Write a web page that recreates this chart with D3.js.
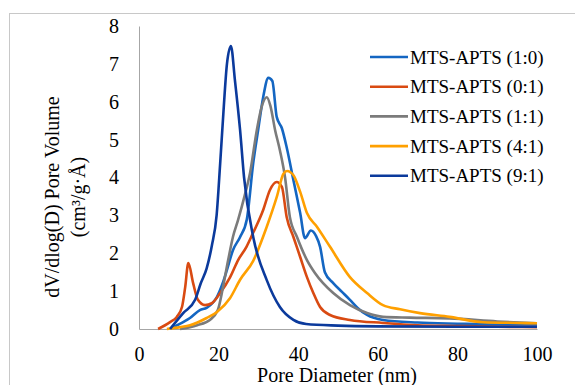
<!DOCTYPE html>
<html>
<head>
<meta charset="utf-8">
<script src="https://cdn.jsdelivr.net/npm/d3@7"></script>
<style>
  body { margin: 0; background: #fff; }
</style>
</head>
<body>
<div id="chart"></div>
<script>
// tick labels
var xTicks = [0, 20, 40, 60, 80, 100];
var yTicks = [0, 1, 2, 3, 4, 5, 6, 7, 8];

// series names and colours
var seriesNames = ["MTS-APTS (1:0)", "MTS-APTS (0:1)", "MTS-APTS (1:1)", "MTS-APTS (4:1)", "MTS-APTS (9:1)"];
var seriesColors = ["#1466c2", "#d94a12", "#7b7b7b", "#ffa000", "#0b3a9c"];

// pore diameter (nm) / dV/dlog(D)
var d10 = [8, 10, 12.8, 15.3, 17, 18.6, 19.6, 21, 22.1, 23.6, 25.4, 27.1, 28.7, 30, 31.2, 32.5, 33.5, 34.6, 35.9, 37.1, 38.8, 40.5, 41.7, 43.2, 44.5, 45.5, 46.7, 48.8, 51, 53, 55, 57.3, 61.3, 70, 80, 90, 100];
var v10 = [0.02, 0.12, 0.29, 0.5, 0.56, 0.7, 0.85, 1.2, 1.56, 2.08, 2.43, 2.9, 4.38, 5.3, 6.12, 6.63, 6.55, 5.6, 5.3, 4.8, 3.93, 3.06, 2.4, 2.6, 2.45, 2.17, 1.5, 1.21, 0.98, 0.77, 0.55, 0.37, 0.24, 0.17, 0.14, 0.12, 0.12];

var d01 = [4.8, 7.8, 9.5, 10.8, 11.6, 12.4, 13.6, 14.8, 16.6, 18.3, 20.4, 22.9, 24.9, 27, 28.5, 31.2, 32.9, 34.6, 35.9, 37.1, 38.8, 40.5, 42.2, 43.8, 45.5, 48, 53, 61.3, 70, 80, 90, 100];
var v01 = [0, 0.18, 0.32, 0.58, 1.1, 1.74, 1.21, 0.77, 0.63, 0.68, 0.95, 1.37, 1.82, 2.17, 2.5, 3.14, 3.67, 3.88, 3.75, 2.96, 2.43, 1.9, 1.37, 0.95, 0.58, 0.37, 0.24, 0.16, 0.1, 0.08, 0.06, 0.05];

var d11 = [10.3, 14.6, 17.8, 19.8, 21.1, 22.4, 23.6, 24.9, 26.5, 27.9, 29.6, 30.8, 32.1, 33, 34.2, 35.4, 36.7, 37.9, 39.7, 42.2, 44.2, 48.8, 53, 57.3, 61.3, 68, 78, 90, 100];
var v11 = [0, 0.1, 0.24, 0.5, 1.1, 1.82, 2.43, 2.88, 3.5, 4.12, 5.25, 5.86, 6.12, 5.9, 5.25, 4.72, 4.0, 2.96, 2.43, 1.82, 1.48, 0.95, 0.63, 0.42, 0.32, 0.3, 0.28, 0.2, 0.15];

var d41 = [7, 10.3, 12.8, 17, 19.6, 22.9, 25.4, 28.7, 32.1, 34.6, 36.3, 37.2, 38.8, 40.5, 42.2, 44.7, 48, 53, 57.3, 61.3, 65.6, 70.6, 78, 86.4, 95, 100];
var v41 = [0, 0.05, 0.1, 0.29, 0.45, 0.82, 1.3, 1.8, 2.7, 3.48, 4.1, 4.17, 4.06, 3.62, 3.06, 2.7, 2.17, 1.37, 0.95, 0.63, 0.52, 0.42, 0.32, 0.18, 0.16, 0.15];

var d91 = [7.8, 11.1, 14.1, 15.5, 17, 18.3, 19.5, 20.4, 21.2, 22.1, 23.1, 24.1, 25.4, 26.4, 28.7, 32.1, 35.4, 38.8, 42, 50, 60, 80, 100];
var v91 = [0, 0.42, 0.77, 1.2, 1.6, 2.2, 3.0, 4.38, 5.7, 7.0, 7.47, 6.57, 5.25, 4.0, 2.43, 1.29, 0.58, 0.24, 0.13, 0.09, 0.07, 0.06, 0.06];

var xs = [d10, d01, d11, d41, d91];
var ys = [v10, v01, v11, v41, v91];

var width = 575, height = 385;
var plotLeft = 139, plotRight = 537, plotTop = 26, plotBottom = 329;
var serif = "'Liberation Serif', 'Times New Roman', 'DejaVu Serif', serif";

var svg = d3.select("#chart")
    .append("svg")
    .attr("width", width)
    .attr("height", height);

// frame round the figure
svg.append("rect")
    .attr("x", 9.5).attr("y", 13.5)
    .attr("width", 570).attr("height", 380)
    .attr("fill", "none")
    .attr("stroke", "#c8c8c8");

var x = d3.scaleLinear().domain([0, 100]).range([plotLeft, plotRight]);
var y = d3.scaleLinear().domain([0, 8]).range([plotBottom, plotTop]);

// axes
var xAxis = svg.append("g")
    .attr("transform", "translate(0," + plotBottom + ")")
    .call(d3.axisBottom(x).tickValues(xTicks).tickSize(0).tickPadding(18));
xAxis.select(".domain").attr("stroke", "#a6a6a6");
xAxis.selectAll("text").style("font-family", serif).style("font-size", "20px").attr("fill", "#000");

var yAxis = svg.append("g")
    .attr("transform", "translate(" + plotLeft + ",0)")
    .call(d3.axisLeft(y).tickValues(yTicks).tickSize(0).tickPadding(20));
yAxis.select(".domain").attr("stroke", "#a6a6a6");
yAxis.selectAll("text").style("font-family", serif).style("font-size", "20px").attr("fill", "#000");

// curves
var line = d3.line()
    .x(function(p) { return x(p[0]); })
    .y(function(p) { return y(p[1]); })
    .curve(d3.curveMonotoneX);

svg.append("g")
    .selectAll("path")
    .data(d3.range(seriesNames.length))
    .enter()
    .append("path")
    .attr("d", function(i) { return line(d3.zip(xs[i], ys[i])); })
    .attr("fill", "none")
    .attr("stroke", function(i) { return seriesColors[i]; })
    .attr("stroke-width", 2.6)
    .attr("stroke-linejoin", "round");

// legend
var legend = svg.append("g")
    .selectAll("g")
    .data(seriesNames)
    .enter()
    .append("g")
    .attr("transform", function(d, i) { return "translate(370," + (57 + i * 29.7) + ")"; });

legend.append("line")
    .attr("x1", 0).attr("x2", 38)
    .attr("stroke", function(d, i) { return seriesColors[i]; })
    .attr("stroke-width", 2.6);

legend.append("text")
    .text(function(d) { return d; })
    .attr("x", 40)
    .attr("dy", "0.35em")
    .style("font-family", serif)
    .style("font-size", "19px");

// axis titles
svg.append("text")
    .text("Pore Diameter (nm)")
    .attr("x", 337)
    .attr("y", 382)
    .attr("text-anchor", "middle")
    .style("font-family", serif)
    .style("font-size", "20px");

svg.append("text")
    .text("dV/dlog(D) Pore Volume")
    .attr("transform", "translate(59,197) rotate(-90)")
    .attr("text-anchor", "middle")
    .style("font-family", serif)
    .style("font-size", "20px");

svg.append("text")
    .text("(cm³/g·Å)")
    .attr("transform", "translate(85,197) rotate(-90)")
    .attr("text-anchor", "middle")
    .style("font-family", serif)
    .style("font-size", "20px");
</script>
</body>
</html>
